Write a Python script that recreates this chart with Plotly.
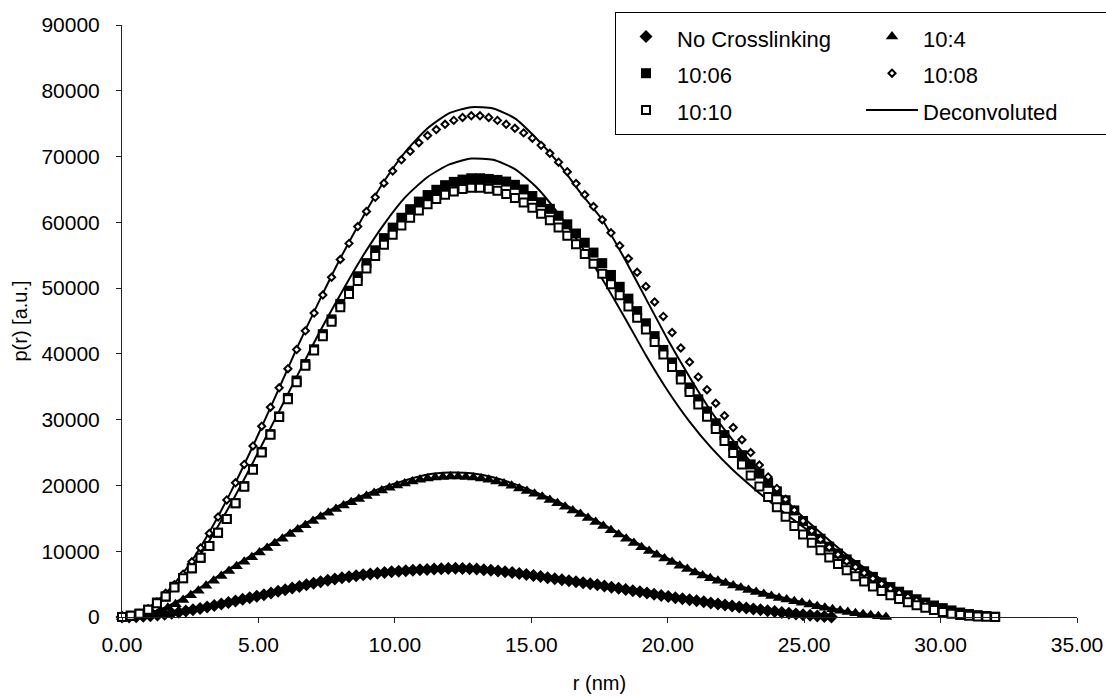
import numpy as np
import plotly.graph_objects as go

# ---- pair distance distributions p(r), sampled on a regular r grid up to Dmax ----
dmax_no_xl = 26.0
dmax_10_4 = 28.0
dmax_10_x = 32.0

p_no_xl = [0, 10, 40, 100, 190, 300, 430, 580, 740, 920,
           1110, 1310, 1520, 1740, 1970, 2200, 2440, 2680, 2920, 3160,
           3400, 3650, 3900, 4150, 4400, 4650, 4900, 5130, 5360, 5580,
           5770, 5950, 6120, 6280, 6420, 6550, 6670, 6780, 6880, 6970,
           7050, 7120, 7180, 7240, 7290, 7340, 7380, 7400, 7380, 7340,
           7280, 7200, 7110, 7000, 6880, 6750, 6610, 6460, 6300, 6140,
           5980, 5820, 5660, 5500, 5350, 5200, 5050, 4900, 4720, 4540,
           4360, 4180, 4000, 3820, 3640, 3460, 3280, 3100, 2940, 2780,
           2620, 2460, 2300, 2140, 1980, 1820, 1660, 1510, 1370, 1230,
           1090, 960, 830, 700, 580, 460, 350, 250, 160, 80,
           0]

p_10_4 = [0, 40, 150, 330, 600, 950, 1400, 1950, 2600, 3300,
          4000, 4750, 5500, 6250, 7000, 7700, 8400, 9100, 9800, 10500,
          11200, 11900, 12600, 13300, 13950, 14600, 15250, 15850, 16400, 16950,
          17450, 17950, 18400, 18850, 19250, 19650, 20000, 20300, 20600, 20850,
          21050, 21200, 21300, 21350, 21350, 21300, 21200, 21050, 20850, 20600,
          20300, 19950, 19550, 19150, 18750, 18300, 17800, 17300, 16750, 16200,
          15650, 15050, 14450, 13850, 13200, 12550, 11900, 11250, 10600, 10050,
          9450, 8900, 8350, 7800, 7300, 6750, 6300, 5900, 5500, 5150,
          4800, 4450, 4100, 3800, 3500, 3200, 2900, 2650, 2400, 2150,
          1900, 1650, 1400, 1180, 960, 760, 580, 410, 260, 120,
          0]

p_10_06 = [0, 200, 500, 1100, 2200, 3100, 4600, 5900, 7400, 9000,
           10800, 12800, 14900, 17300, 19900, 22500, 25100, 27800, 30500, 33300,
           35950, 38450, 40700, 43000, 45250, 47600, 49600, 51800, 53800, 55750,
           57600, 59200, 60700, 62000, 63150, 64150, 64950, 65650, 66150, 66500,
           66700, 66700, 66600, 66450, 66200, 65700, 65000, 64000, 63050, 62050,
           61000, 59700, 58300, 56900, 55400, 53800, 52000, 50200, 48400, 46500,
           44650, 42700, 40600, 38700, 36800, 34900, 33100, 31250, 29450, 27650,
           26000, 24600, 23200, 21800, 20400, 19100, 17750, 16200, 14600, 13100,
           11900, 10700, 9650, 8750, 7900, 6950, 6100, 5250, 4550, 3850,
           3300, 2700, 2200, 1750, 1350, 1000, 680, 450, 280, 150,
           50]

p_10_08 = [0, 150, 550, 1250, 2300, 3600, 4900, 6500, 8400, 10500,
           12700, 15200, 17800, 20400, 23200, 26000, 29000, 31900, 34850, 37750,
           40650, 43500, 46200, 48950, 51650, 54350, 56800, 59350, 61650, 63800,
           65950, 67800, 69500, 70800, 72100, 73200, 74100, 74900, 75500, 75950,
           76200, 76200, 75950, 75500, 74900, 74300, 73600, 72800, 71700, 70500,
           69150, 67700, 65900, 64200, 62400, 60400, 58400, 56450, 54500, 52400,
           50250, 47900, 45700, 43250, 40900, 38750, 36500, 34550, 32500, 30600,
           28800, 26950, 25000, 23100, 21300, 19550, 17900, 16250, 14600, 13100,
           11800, 10600, 9500, 8500, 7600, 6700, 5850, 5050, 4300, 3650,
           3050, 2500, 2000, 1550, 1150, 800, 500, 300, 150, 60,
           0]

p_10_10 = [0, 200, 500, 1100, 2100, 3100, 4500, 5900, 7400, 9000,
           10800, 12800, 14900, 17300, 19800, 22400, 25000, 27700, 30400, 33100,
           35700, 38200, 40500, 42700, 44900, 47100, 49100, 51100, 53000, 54900,
           56600, 58100, 59500, 60700, 61800, 62750, 63550, 64200, 64700, 65050,
           65250, 65250, 65100, 64800, 64300, 63700, 63000, 62200, 61300, 60300,
           59200, 57950, 56650, 55200, 53700, 52200, 50600, 48900, 47200, 45500,
           43700, 41800, 39900, 38000, 36100, 34200, 32300, 30450, 28600, 26750,
           24950, 23200, 21500, 19850, 18250, 16700, 15250, 13850, 12550, 11300,
           10150, 9050, 8050, 7100, 6200, 5400, 4650, 3950, 3300, 2750,
           2250, 1800, 1400, 1050, 750, 500, 320, 180, 90, 30,
           0]

# ---- deconvoluted curves, 0.8 nm spacing ----
dec_upper = [0, 900, 3600, 7600, 12900, 19100, 26000, 33300, 40800, 47800,
             54500, 60600, 66200, 70800, 74300, 76600, 77500, 77300, 75800, 72700,
             69000, 64500, 60400, 54600, 48400, 42200, 36500, 31200, 26800, 22800,
             19200, 15800, 12800, 10000, 7500, 5200, 3100, 1400, 500, 120,
             0]
dec_lower = [0, 800, 3100, 6800, 11600, 17300, 23500, 30000, 36500, 43000,
             49000, 54700, 59700, 63900, 66900, 68800, 69700, 69500, 68100, 65300,
             61300, 56600, 51400, 45700, 39800, 34400, 29700, 25700, 22300, 19400,
             16700, 14200, 11800, 9500, 7400, 5300, 3300, 1500, 500, 100,
             0]
dec_10_4 = [0, 400, 1500, 3300, 5350, 7500, 9500, 11500, 13500, 15350,
            17050, 18450, 19750, 20800, 21650, 21950, 21850, 21250, 20200, 18900,
            17500, 15900, 14150, 12350, 10500, 8900, 7350, 6050, 5000, 4050,
            3200, 2400, 1700, 1000, 450, 0]

r_no_xl = np.linspace(0, dmax_no_xl, len(p_no_xl))
r_10_4 = np.linspace(0, dmax_10_4, len(p_10_4))
r_10_x = np.linspace(0, dmax_10_x, len(p_10_06))
r_dec = np.linspace(0, dmax_10_x, len(dec_upper))
r_dec_4 = np.linspace(0, dmax_10_4, len(dec_10_4))

FONT = "Liberation Sans, Arial, sans-serif"
INK = "black"


def entry(label):
    # legend rows are spaced by the legend font; the label itself is drawn at 22 px
    return f'<span style="font-size:22px">{label}</span>'


fig = go.Figure()

# fitted curves sit underneath the symbols
for i, (rx, py) in enumerate([(r_dec_4, dec_10_4), (r_dec, dec_lower), (r_dec, dec_upper)]):
    fig.add_trace(go.Scatter(
        x=rx, y=py, mode="lines", name=entry("Deconvoluted"),
        line=dict(color=INK, width=2, shape="spline", smoothing=0.6),
        showlegend=(i == 2), legendrank=6, legendgroup="right", cliponaxis=False,
    ))

series = [
    ("No Crosslinking", r_no_xl, p_no_xl, "left",
     dict(symbol="diamond", size=10, color=INK, line=dict(width=0))),
    ("10:4", r_10_4, p_10_4, "right",
     dict(symbol="triangle-up", size=11, color=INK, line=dict(width=0))),
    ("10:06", r_10_x, p_10_06, "left",
     dict(symbol="square", size=10, color=INK, line=dict(width=0))),
    ("10:08", r_10_x, p_10_08, "right",
     dict(symbol="diamond", size=5.5, color="white", line=dict(color=INK, width=2))),
    ("10:10", r_10_x, p_10_10, "left",
     dict(symbol="square", size=8, color="white", line=dict(color=INK, width=2))),
]
for rank, (name, rx, py, grp, mk) in enumerate(series, start=1):
    fig.add_trace(go.Scatter(x=rx, y=py, mode="markers", name=entry(name), marker=mk,
                             legendrank=rank, legendgroup=grp, cliponaxis=False))

axis_common = dict(
    showgrid=False, zeroline=False, showline=True, linecolor="#222", linewidth=1,
    ticks="outside", ticklen=5, tickcolor="#222", tickwidth=1,
    tickfont=dict(family=FONT, size=21, color=INK),
)

fig.update_xaxes(range=[0, 35], dtick=5, tick0=0, tickformat=".2f",
                 ticklabelstandoff=4,
                 title=dict(text="r (nm)", font=dict(family=FONT, size=20, color=INK),
                            standoff=20),
                 **axis_common)
fig.update_yaxes(range=[0, 90000], dtick=10000, tick0=0, tickformat="d",
                 ticklabelstandoff=12,
                 title=dict(text="p(r) [a.u.]", font=dict(family=FONT, size=20, color=INK),
                            standoff=8),
                 **axis_common)

fig.update_layout(
    width=1106, height=697,
    margin=dict(l=122, r=29, t=25, b=80, autoexpand=False),
    paper_bgcolor="white", plot_bgcolor="white",
    font=dict(family=FONT, color=INK),
    legend=dict(
        orientation="h", xref="container", yref="container",
        x=615 / 1106, y=1 - 12 / 697, xanchor="left", yanchor="top",
        traceorder="grouped", itemwidth=52,
        entrywidth=179, entrywidthmode="pixels",
        bgcolor="white", bordercolor=INK, borderwidth=1,
        font=dict(family=FONT, size=26, color=INK),
    ),
)

fig.write_html("out.html")
